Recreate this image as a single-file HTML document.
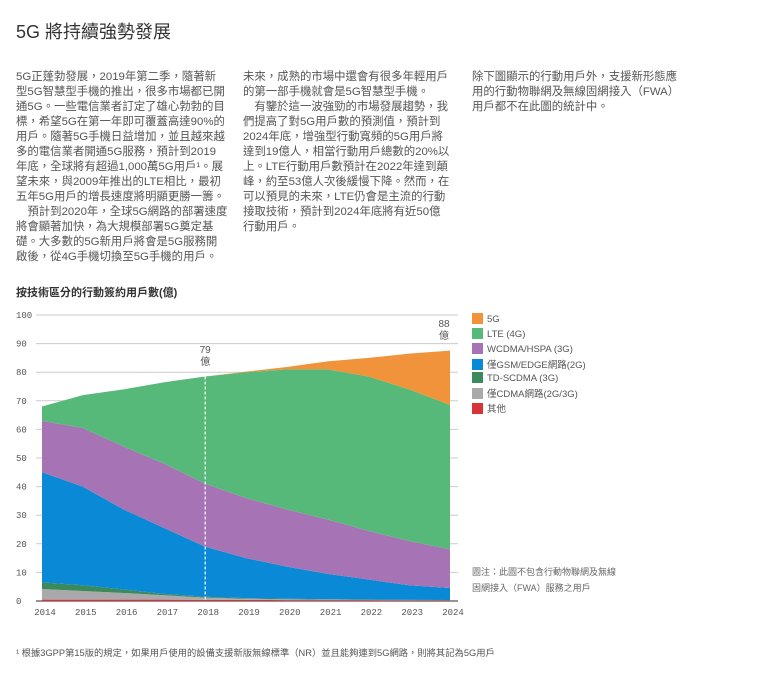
<!DOCTYPE html>
<html><head><meta charset="utf-8">
<style>
body{margin:0;width:759px;height:682px;background:#fff;position:relative;overflow:hidden;font-family:"Liberation Sans","Noto Sans CJK TC",sans-serif;color:#555}
.t{position:absolute;white-space:nowrap}
.col{position:absolute;font-size:11.4px;line-height:15px;white-space:nowrap;color:#555}
.leg{position:absolute;left:472px;font-size:9.5px;color:#555;white-space:nowrap}
.leg i{display:inline-block;width:11px;height:11px;vertical-align:-2px;margin-right:4px}
</style></head><body>
<div class="t" style="left:16px;top:18px;font-size:18px;color:#333">5G 將持續強勢發展</div>
<div class="col" style="left:16px;top:70px">5G正蓬勃發展，2019年第二季，隨著新<br>型5G智慧型手機的推出，很多市場都已開<br>通5G。一些電信業者訂定了雄心勃勃的目<br>標，希望5G在第一年即可覆蓋高達90%的<br>用戶。隨著5G手機日益增加，並且越來越<br>多的電信業者開通5G服務，預計到2019<br>年底，全球將有超過1,000萬5G用戶¹。展<br>望未來，與2009年推出的LTE相比，最初<br>五年5G用戶的增長速度將明顯更勝一籌。<br>　預計到2020年，全球5G網路的部署速度<br>將會顯著加快，為大規模部署5G奠定基<br>礎。大多數的5G新用戶將會是5G服務開<br>啟後，從4G手機切換至5G手機的用戶。</div>
<div class="col" style="left:243px;top:70px">未來，成熟的市場中還會有很多年輕用戶<br>的第一部手機就會是5G智慧型手機。<br>　有鑒於這一波強勁的市場發展趨勢，我<br>們提高了對5G用戶數的預測值，預計到<br>2024年底，增強型行動寬頻的5G用戶將<br>達到19億人，相當行動用戶總數的20%以<br>上。LTE行動用戶數預計在2022年達到顛<br>峰，約至53億人次後緩慢下降。然而，在<br>可以預見的未來，LTE仍會是主流的行動<br>接取技術，預計到2024年底將有近50億<br>行動用戶。</div>
<div class="col" style="left:472px;top:70px">除下圖顯示的行動用戶外，支援新形態應<br>用的行動物聯網及無線固網接入（FWA）<br>用戶都不在此圖的統計中。</div>
<div class="t" style="left:16px;top:284px;font-size:11px;font-weight:bold;color:#333">按技術區分的行動簽約用戶數(億)</div>
<svg id="chart" width="759" height="682" style="position:absolute;left:0;top:0"></svg>
<div class="leg" style="top:313px"><i style="background:#f0933a"></i>5G</div>
<div class="leg" style="top:328px"><i style="background:#56b97a"></i>LTE (4G)</div>
<div class="leg" style="top:343px"><i style="background:#a674b4"></i>WCDMA/HSPA (3G)</div>
<div class="leg" style="top:357px"><i style="background:#0a8ad6"></i>僅GSM/EDGE網路(2G)</div>
<div class="leg" style="top:372px"><i style="background:#3a8a5c"></i>TD-SCDMA (3G)</div>
<div class="leg" style="top:386px"><i style="background:#a9a9ab"></i>僅CDMA網路(2G/3G)</div>
<div class="leg" style="top:401px"><i style="background:#d9333a"></i>其他</div>
<div class="t" style="left:472px;top:564px;font-size:9px;line-height:16px;color:#666">圖注：此圖不包含行動物聯網及無線<br>固網接入（FWA）服務之用戶</div>
<div class="t" style="left:16px;top:645px;font-size:9.3px;color:#555">¹ 根據3GPP第15版的規定，如果用戶使用的設備支援新版無線標準（NR）並且能夠連到5G網路，則將其記為5G用戶</div>
<script>
const years=[2014,2015,2016,2017,2018,2019,2020,2021,2022,2023,2024];
const other=[0.5,0.5,0.5,0.5,0.4,0.4,0.3,0.3,0.3,0.2,0.2];
const cdma=[3.7,3.0,2.3,1.5,0.8,0.4,0.3,0.2,0.1,0.1,0.05];
const tdscdma=[2.3,2.0,1.2,0.5,0.3,0.2,0.2,0.1,0.1,0.1,0.1];
const gsm=[38.5,34.5,28,23,17.5,14,11.2,8.9,7,5.1,4.2];
const wcdma=[18,20.5,22,22.5,22,21,20,19,17,15.5,13.5];
const lte=[5,11.5,20,28.5,37.5,44,49,52.5,54,53,50.5];
const nr5g=[0,0,0,0,0,0.2,0.8,2.8,6.5,12.5,19];
const yTicks=[0,10,20,30,40,50,60,70,80,90,100];
const series=[[other,'#d9333a','other'],[cdma,'#a9a9ab','cdma'],[tdscdma,'#3a8a5c','td-scdma'],[gsm,'#0a8ad6','gsm'],[wcdma,'#a674b4','wcdma'],[lte,'#56b97a','lte'],[nr5g,'#f0933a','5g']];
const svg=document.getElementById('chart');const NS='http://www.w3.org/2000/svg';
const x=v=>42+(v-2014)*40.8;const y=v=>601-v*2.86;
function mk(t,a){const e=document.createElementNS(NS,t);for(const k in a)e.setAttribute(k,a[k]);svg.appendChild(e);return e;}
yTicks.forEach(t=>{const l=mk('line',{x1:36,x2:458,y1:y(t),y2:y(t),stroke:t==0?'#555':'#ccc','stroke-width':t==0?1.2:1});


const tx=mk('text',{x:16,y:y(t)+3,'font-size':9,fill:'#555','font-family':'Liberation Mono,monospace'});tx.textContent=t;

});
let base=years.map(()=>0);
series.forEach(([vals,c,n])=>{const top=base.map((b,i)=>b+vals[i]);
let d='M'+years.map((yr,i)=>x(yr)+','+y(top[i])).join('L');
for(let i=years.length-1;i>=0;i--)d+='L'+x(years[i])+','+y(base[i]);
const p=mk('path',{d:d+'Z',fill:c});


base=top;});
const total=base;
const i18=years.indexOf(2018);
const dl=mk('line',{x1:x(2018),x2:x(2018),y1:y(total[i18]),y2:601,stroke:'#fff','stroke-width':1.2,'stroke-dasharray':'3,2'});


function ann(xx,yy,txt,name){const t=mk('text',{x:xx,y:yy,'font-size':10,fill:'#555','text-anchor':'middle'});t.textContent=txt;

}
ann(x(2018),353,'79','annotation-2018-value');ann(x(2018),365,'億','annotation-2018-unit');
ann(x(2024)-6,327,'88','annotation-2024-value');ann(x(2024)-6,339,'億','annotation-2024-unit');
years.forEach(yr=>{const t=mk('text',{x:x(yr)+3,y:615,'font-size':9,fill:'#555','text-anchor':'middle','font-family':'Liberation Mono,monospace'});t.textContent=yr;

});
</script>
</body></html>
